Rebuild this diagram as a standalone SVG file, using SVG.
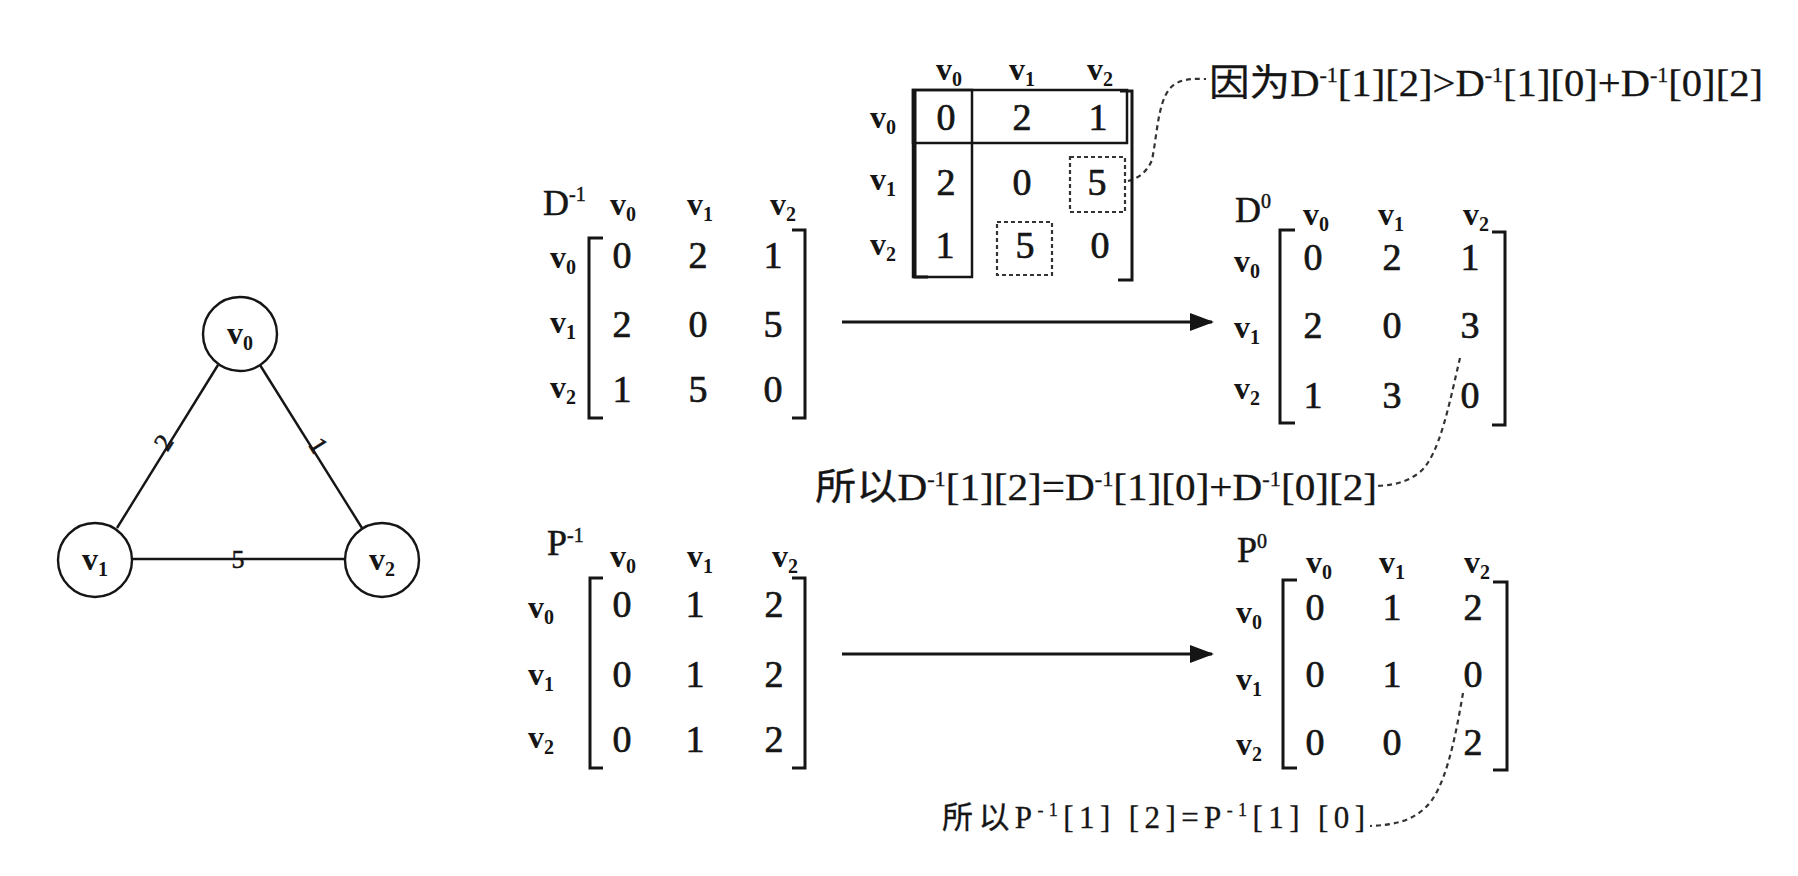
<svg xmlns="http://www.w3.org/2000/svg" width="1798" height="876" viewBox="0 0 1798 876">
<defs>
<style>
text{font-family:"Liberation Serif","Noto Sans CJK SC",serif;fill:#151515}
.v{font-size:32px;text-anchor:middle;font-weight:bold}
.v tspan{font-size:20px}
.n{font-size:38px;text-anchor:middle;stroke:#151515;stroke-width:0.7}
.m{font-size:36px;stroke:#151515;stroke-width:0.5}
.w{font-size:26px;text-anchor:middle;stroke:#151515;stroke-width:0.5}
.lbl{font-size:37px;stroke:#151515;stroke-width:0.3}
.br{fill:none;stroke:#151515;stroke-width:3}
.edge{stroke:#151515;stroke-width:2.4;fill:none}
.node{fill:#fff;stroke:#151515;stroke-width:2.4}
.dash{fill:none;stroke:#333;stroke-width:2.2;stroke-dasharray:5 4}
.box{fill:none;stroke:#333;stroke-width:2.2;stroke-dasharray:4 3}
.arr{stroke:#151515;stroke-width:3.2;fill:none}
</style>
<marker id="ah2" markerWidth="24" markerHeight="18" refX="22" refY="9" orient="auto" markerUnits="userSpaceOnUse" viewBox="0 0 24 18">
<path d="M0,0 L24,9 L0,18 Z" fill="#151515"/>
</marker>
</defs>
<rect width="1798" height="876" fill="#fff"/>

<g id="connectors">
<line class="edge" x1="218" y1="365" x2="117" y2="528"/>
<line class="edge" x1="260" y1="365" x2="362" y2="528"/>
<line class="edge" x1="132" y1="559" x2="345" y2="559"/>
<text class="w" transform="translate(171,447) rotate(-58)">2</text>
<text class="w" transform="translate(311,450) rotate(58)">1</text>
<text class="w" x="238" y="568">5</text>
<line class="arr" x1="842" y1="322" x2="1212" y2="322" marker-end="url(#ah2)"/>
<line class="arr" x1="842" y1="654" x2="1212" y2="654" marker-end="url(#ah2)"/>
<path class="dash" d="M1128,181 C1140,178 1148,170 1152,160 C1158,130 1158,95 1175,84 C1185,78 1195,79 1206,79"/>
<path class="dash" d="M1460,358 C1450,400 1440,455 1420,472 C1405,484 1390,485 1377,486"/>
<path class="dash" d="M1463,693 C1455,740 1445,790 1425,808 C1410,822 1392,825 1370,826"/>
</g>

<g id="node-v0">
<circle class="node" cx="240" cy="334" r="37"/>
<text class="v" x="240" y="344">v<tspan dy="6">0</tspan></text>
</g>
<g id="node-v1">
<circle class="node" cx="95" cy="560" r="37"/>
<text class="v" x="95" y="570">v<tspan dy="6">1</tspan></text>
</g>
<g id="node-v2">
<circle class="node" cx="382" cy="560" r="37"/>
<text class="v" x="382" y="570">v<tspan dy="6">2</tspan></text>
</g>

<g id="matrix-D-1">
<text class="m" x="543" y="215">D<tspan dy="-14" font-size="20">-1</tspan></text>
<text class="v" x="623" y="215">v<tspan dy="6">0</tspan></text>
<text class="v" x="700" y="215">v<tspan dy="6">1</tspan></text>
<text class="v" x="783" y="215">v<tspan dy="6">2</tspan></text>
<text class="v" x="563" y="268">v<tspan dy="6">0</tspan></text>
<text class="v" x="563" y="333">v<tspan dy="6">1</tspan></text>
<text class="v" x="563" y="398">v<tspan dy="6">2</tspan></text>
<path class="br" d="M603,238 H589 V418 H603"/>
<path class="br" d="M792,230 H805 V418 H792"/>
<text class="n" x="622" y="268">0</text><text class="n" x="698" y="268">2</text><text class="n" x="773" y="268">1</text>
<text class="n" x="622" y="337">2</text><text class="n" x="698" y="337">0</text><text class="n" x="773" y="337">5</text>
<text class="n" x="622" y="402">1</text><text class="n" x="698" y="402">5</text><text class="n" x="773" y="402">0</text>
</g>

<g id="matrix-small">
<text class="v" x="949" y="80">v<tspan dy="6">0</tspan></text>
<text class="v" x="1022" y="80">v<tspan dy="6">1</tspan></text>
<text class="v" x="1100" y="80">v<tspan dy="6">2</tspan></text>
<text class="v" x="883" y="128">v<tspan dy="6">0</tspan></text>
<text class="v" x="883" y="190">v<tspan dy="6">1</tspan></text>
<text class="v" x="883" y="255">v<tspan dy="6">2</tspan></text>
<rect x="913" y="90" width="214" height="53" fill="none" stroke="#151515" stroke-width="2.5"/>
<rect x="913" y="90" width="59" height="187" fill="none" stroke="#151515" stroke-width="2.5"/>
<path class="br" d="M915,90 V277 H928" stroke-width="5"/>
<path class="br" d="M1120,91 H1132 V280 H1118" stroke-width="3.5"/>
<rect class="box" x="1070" y="157" width="55" height="55"/>
<rect class="box" x="997" y="222" width="55" height="53"/>
<text class="n" x="946" y="130">0</text><text class="n" x="1022" y="130">2</text><text class="n" x="1098" y="130">1</text>
<text class="n" x="946" y="195">2</text><text class="n" x="1022" y="195">0</text><text class="n" x="1097" y="195">5</text>
<text class="n" x="945" y="258">1</text><text class="n" x="1025" y="258">5</text><text class="n" x="1100" y="258">0</text>
</g>

<g id="matrix-D0">
<text class="m" x="1235" y="222">D<tspan dy="-14" font-size="20">0</tspan></text>
<text class="v" x="1316" y="225">v<tspan dy="6">0</tspan></text>
<text class="v" x="1391" y="225">v<tspan dy="6">1</tspan></text>
<text class="v" x="1476" y="225">v<tspan dy="6">2</tspan></text>
<text class="v" x="1247" y="272">v<tspan dy="6">0</tspan></text>
<text class="v" x="1247" y="338">v<tspan dy="6">1</tspan></text>
<text class="v" x="1247" y="399">v<tspan dy="6">2</tspan></text>
<path class="br" d="M1295,230 H1280 V423 H1295"/>
<path class="br" d="M1492,232 H1505 V425 H1492"/>
<text class="n" x="1313" y="270">0</text><text class="n" x="1392" y="270">2</text><text class="n" x="1470" y="270">1</text>
<text class="n" x="1313" y="338">2</text><text class="n" x="1392" y="338">0</text><text class="n" x="1470" y="338">3</text>
<text class="n" x="1313" y="408">1</text><text class="n" x="1392" y="408">3</text><text class="n" x="1470" y="408">0</text>
</g>

<g id="matrix-P-1">
<text class="m" x="547" y="555">P<tspan dy="-13" font-size="20">-1</tspan></text>
<text class="v" x="623" y="567">v<tspan dy="6">0</tspan></text>
<text class="v" x="700" y="567">v<tspan dy="6">1</tspan></text>
<text class="v" x="785" y="567">v<tspan dy="6">2</tspan></text>
<text class="v" x="541" y="618">v<tspan dy="6">0</tspan></text>
<text class="v" x="541" y="685">v<tspan dy="6">1</tspan></text>
<text class="v" x="541" y="748">v<tspan dy="6">2</tspan></text>
<path class="br" d="M603,578 H590 V768 H603"/>
<path class="br" d="M792,578 H805 V768 H792"/>
<text class="n" x="622" y="617">0</text><text class="n" x="695" y="617">1</text><text class="n" x="774" y="617">2</text>
<text class="n" x="622" y="687">0</text><text class="n" x="695" y="687">1</text><text class="n" x="774" y="687">2</text>
<text class="n" x="622" y="752">0</text><text class="n" x="695" y="752">1</text><text class="n" x="774" y="752">2</text>
</g>

<g id="matrix-P0">
<text class="m" x="1237" y="562">P<tspan dy="-14" font-size="20">0</tspan></text>
<text class="v" x="1319" y="573">v<tspan dy="6">0</tspan></text>
<text class="v" x="1392" y="573">v<tspan dy="6">1</tspan></text>
<text class="v" x="1477" y="573">v<tspan dy="6">2</tspan></text>
<text class="v" x="1249" y="623">v<tspan dy="6">0</tspan></text>
<text class="v" x="1249" y="690">v<tspan dy="6">1</tspan></text>
<text class="v" x="1249" y="755">v<tspan dy="6">2</tspan></text>
<path class="br" d="M1297,580 H1283 V768 H1297"/>
<path class="br" d="M1493,582 H1507 V770 H1493"/>
<text class="n" x="1315" y="620">0</text><text class="n" x="1392" y="620">1</text><text class="n" x="1473" y="620">2</text>
<text class="n" x="1315" y="687">0</text><text class="n" x="1392" y="687">1</text><text class="n" x="1473" y="687">0</text>
<text class="n" x="1315" y="755">0</text><text class="n" x="1392" y="755">0</text><text class="n" x="1473" y="755">2</text>
</g>

<g id="label-top">
<text class="lbl" x="1209" y="96" textLength="554" lengthAdjust="spacingAndGlyphs">因为D<tspan dy="-14" font-size="20">-1</tspan><tspan dy="14">[1][2]&gt;D</tspan><tspan dy="-14" font-size="20">-1</tspan><tspan dy="14">[1][0]+D</tspan><tspan dy="-14" font-size="20">-1</tspan><tspan dy="14">[0][2]</tspan></text>
</g>
<g id="label-mid">
<text class="lbl" x="815" y="500" textLength="562" lengthAdjust="spacingAndGlyphs">所以D<tspan dy="-14" font-size="20">-1</tspan><tspan dy="14">[1][2]=D</tspan><tspan dy="-14" font-size="20">-1</tspan><tspan dy="14">[1][0]+D</tspan><tspan dy="-14" font-size="20">-1</tspan><tspan dy="14">[0][2]</tspan></text>
</g>
<g id="label-bottom">
<text x="942" y="828" font-size="31" stroke="#151515" stroke-width="0.3" textLength="423" lengthAdjust="spacing">所以P<tspan dy="-12" font-size="18">-1</tspan><tspan dy="12">[1] [2]=P</tspan><tspan dy="-12" font-size="18">-1</tspan><tspan dy="12">[1] [0]</tspan></text>
</g>
</svg>
